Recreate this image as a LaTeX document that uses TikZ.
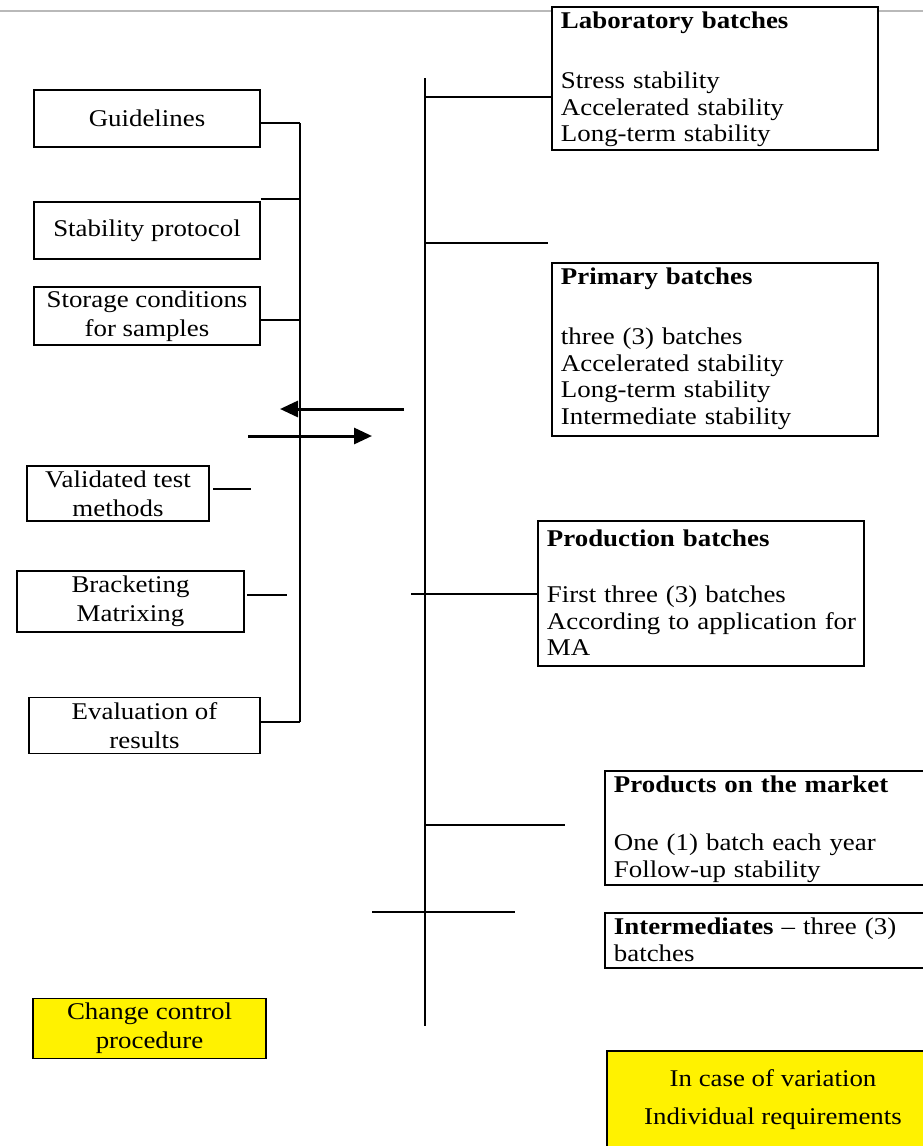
\documentclass[tikz,border=0pt]{standalone}
\usepackage{fontspec}
\setmainfont[FakeStretch=1.12]{Liberation Serif}
\usetikzlibrary{arrows.meta}

\begin{document}
\begin{tikzpicture}[x=1pt,y=-1pt,
	lbox/.style={draw, line width=1.9pt, align=center, inner sep=0pt, font=\fontsize{24}{29}\selectfont},
	ybox/.style={lbox, fill=yellow},
	rbox/.style={draw, line width=1.9pt, fill=white, anchor=north west, align=left, inner xsep=9pt, inner ysep=0pt, text height=22pt, font=\fontsize{24}{26.5}\selectfont},
	conn/.style={line width=1.4pt},
	arr/.style={line width=3pt, -{Triangle[length=18pt,width=16pt]}}]
\useasboundingbox (0,0) rectangle (923,1146);
\draw[gray!55, line width=2pt] (0,11) -- (923,11);
% left column
	\node[lbox, minimum width=226, minimum height=57] (guide) at (147,118.5) {Guidelines};
	\node[lbox, minimum width=226, minimum height=57] (proto) at (147,230.5) {Stability protocol};
	\node[lbox, minimum width=226, minimum height=58] (store) at (147,316) {Storage conditions\\for samples};
	\node[lbox, minimum width=182, minimum height=55] (valid) at (118,493.5) {Validated test\\methods};
	\node[lbox, minimum width=227, minimum height=61] (brack) at (130.5,601.5) {Bracketing\\Matrixing};
	\node[lbox, minimum width=231, minimum height=56] (evalres) at (144.5,725.5) {Evaluation of\\results};
	\node[ybox, minimum width=233, minimum height=60] (change) at (149.5,1028.5) {Change control\\procedure};
% right column
	\node[rbox, text width=308, text depth=121] (lab) at (551,6) {\textbf{Laboratory batches}\\[33.5pt]Stress stability\\Accelerated stability\\Long-term stability};
	\node[rbox, text width=308, text depth=151] (prim) at (551,262) {\textbf{Primary batches}\\[33.5pt]three (3) batches\\Accelerated stability\\Long-term stability\\Intermediate stability};
	\node[rbox, text width=308, text height=26pt, text depth=119] (prod) at (537,520) {\textbf{Production batches}\\[29.5pt]First three (3) batches\\\mbox{According to application for}\\MA};
	\node[rbox, text width=330, text depth=92] (market) at (604,770) {\textbf{Products on the market}\\[31.5pt]One (1) batch each year\\Follow-up stability};
	\node[rbox, text width=330, text depth=33] (interm) at (604,912) {\textbf{Intermediates} -- three (3)\\batches};
	\node[ybox, minimum width=332, minimum height=98, font=\fontsize{24}{38}\selectfont] (vary) at (773,1100) {In case of variation\\Individual requirements};
% left spine
\coordinate (lj1) at (300,123);
\coordinate (lj2) at (300,199);
\coordinate (lj3) at (300,320);
\coordinate (lj4) at (300,722);
\draw[conn] (lj1)--(lj4);
\draw[conn] (guide.east |- lj1)--(lj1);
\draw[conn] (proto.east |- lj2)--(lj2);
\draw[conn] (store.east |- lj3)--(lj3);
\draw[conn] (evalres.east |- lj4)--(lj4);
\coordinate (vs) at (213,489);
\coordinate (ve) at (251,489);
\draw[conn] (vs)--(ve);
\coordinate (bs) at (247,595);
\coordinate (be) at (287,595);
\draw[conn] (bs)--(be);
% right spine
\coordinate (rtop) at (425,78);
\coordinate (rbot) at (425,1026);
\draw[conn] (rtop)--(rbot);
\coordinate (rj1) at (425,97);
\draw[conn] (rj1)--(lab.west |- rj1);
\coordinate (rj2) at (425,243);
\coordinate (rj2e) at (548,243);
\draw[conn] (rj2)--(rj2e);
\coordinate (rj3) at (411,594);
\draw[conn] (rj3)--(prod.west |- rj3);
\coordinate (rj4) at (425,825);
\coordinate (rj4e) at (565,825);
\draw[conn] (rj4)--(rj4e);
\coordinate (rj5) at (372,912);
\coordinate (rj5e) at (515,912);
\draw[conn] (rj5)--(rj5e);
% arrows
\coordinate (a1s) at (404,409);
\coordinate (a1e) at (280,409);
\draw[arr] (a1s)--(a1e);
\coordinate (a2s) at (248,436);
\coordinate (a2e) at (372,436);
\draw[arr] (a2s)--(a2e);
\end{tikzpicture}
\end{document}
